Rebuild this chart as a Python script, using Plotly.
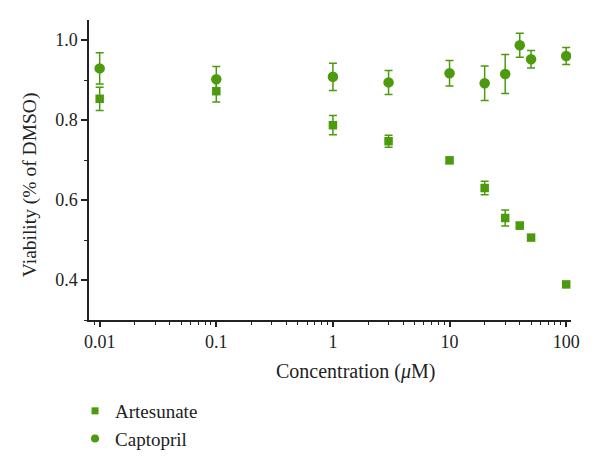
import plotly.graph_objects as go
import math

concentration = [0.01, 0.1, 1, 3, 10, 20, 30, 40, 50, 100]
artesunate = [0.853, 0.872, 0.787, 0.747, 0.699, 0.630, 0.555, 0.536, 0.506, 0.389]
artesunate_err = [0.029, 0.027, 0.024, 0.015, 0.007, 0.017, 0.020, 0.008, 0.004, 0.004]
captopril = [0.929, 0.902, 0.908, 0.894, 0.917, 0.892, 0.915, 0.987, 0.952, 0.960]
captopril_err = [0.039, 0.032, 0.034, 0.030, 0.032, 0.043, 0.049, 0.030, 0.022, 0.021]

x_tick_vals = [0.01, 0.1, 1, 10, 100]
x_tick_text = ["0.01", "0.1", "1", "10", "100"]
y_tick_vals = [0.4, 0.6, 0.8, 1.0]
y_tick_text = ["0.4", "0.6", "0.8", "1.0"]

green = "#4c9a0e"
ink = "#222222"
font_family = "Liberation Serif"

minor_x = [d * 10 ** e for e in range(-3, 3) for d in range(2, 10)]
minor_x = [v for v in minor_x if 0.008 <= v <= 110]

fig = go.Figure()
fig.add_trace(go.Scatter(
    x=concentration, y=artesunate, mode="markers", name="Artesunate", showlegend=False,
    marker=dict(symbol="square", size=8.5, color=green),
    error_y=dict(type="data", array=artesunate_err, color=green, thickness=1.5, width=4),
))
fig.add_trace(go.Scatter(
    x=concentration, y=captopril, mode="markers", name="Captopril", showlegend=False,
    marker=dict(symbol="circle", size=10.5, color=green),
    error_y=dict(type="data", array=captopril_err, color=green, thickness=1.5, width=4),
))
# legend-only entries with the smaller legend symbols
fig.add_trace(go.Scatter(x=[None], y=[None], mode="markers", name="Artesunate",
                         marker=dict(symbol="square", size=7, color=green)))
fig.add_trace(go.Scatter(x=[None], y=[None], mode="markers", name="Captopril",
                         marker=dict(symbol="circle", size=8, color=green)))

fig.update_layout(
    width=600, height=469,
    margin=dict(l=81, r=37, t=12, b=157),
    plot_bgcolor="white", paper_bgcolor="white",
    font=dict(family=font_family, size=17, color=ink),
    showlegend=True,
    legend=dict(x=-0.029, y=-0.24, xanchor="left", yanchor="top",
                font=dict(family=font_family, size=19, color=ink),
                bgcolor="rgba(0,0,0,0)", tracegroupgap=0),
    annotations=[
        dict(text="Concentration (<i>μ</i>M)", x=0.552, y=-0.173, xref="paper", yref="paper",
             xanchor="center", yanchor="middle", showarrow=False,
             font=dict(family=font_family, size=20, color=ink)),
        dict(text="Viability (% of DMSO)", x=-0.122, y=0.45, xref="paper", yref="paper",
             xanchor="center", yanchor="middle", showarrow=False, textangle=-90,
             font=dict(family=font_family, size=19.5, color=ink)),
    ],
)

fig.update_xaxes(
    type="log", range=[math.log10(0.0081), math.log10(110)],
    tickvals=x_tick_vals, ticktext=x_tick_text,
    showline=True, linecolor=ink, linewidth=1.5,
    ticks="outside", ticklen=5, tickwidth=1.5, tickcolor=ink,
    showgrid=False, zeroline=False,
    minor=dict(tickvals=minor_x, ticks="outside", ticklen=3, tickwidth=1.2,
               tickcolor=ink, showgrid=False),
    tickfont=dict(family=font_family, size=18, color=ink),
)
fig.update_yaxes(
    range=[0.3, 1.05],
    tickvals=y_tick_vals, ticktext=y_tick_text,
    showline=True, linecolor=ink, linewidth=1.5,
    ticks="outside", ticklen=6, tickwidth=1.5, tickcolor=ink,
    showgrid=False, zeroline=False,
    minor=dict(dtick=0.1, tick0=0.3, ticks="outside", ticklen=3, tickwidth=1.2,
               tickcolor=ink, showgrid=False),
    tickfont=dict(family=font_family, size=18, color=ink),
)

fig.write_html("out.html")
